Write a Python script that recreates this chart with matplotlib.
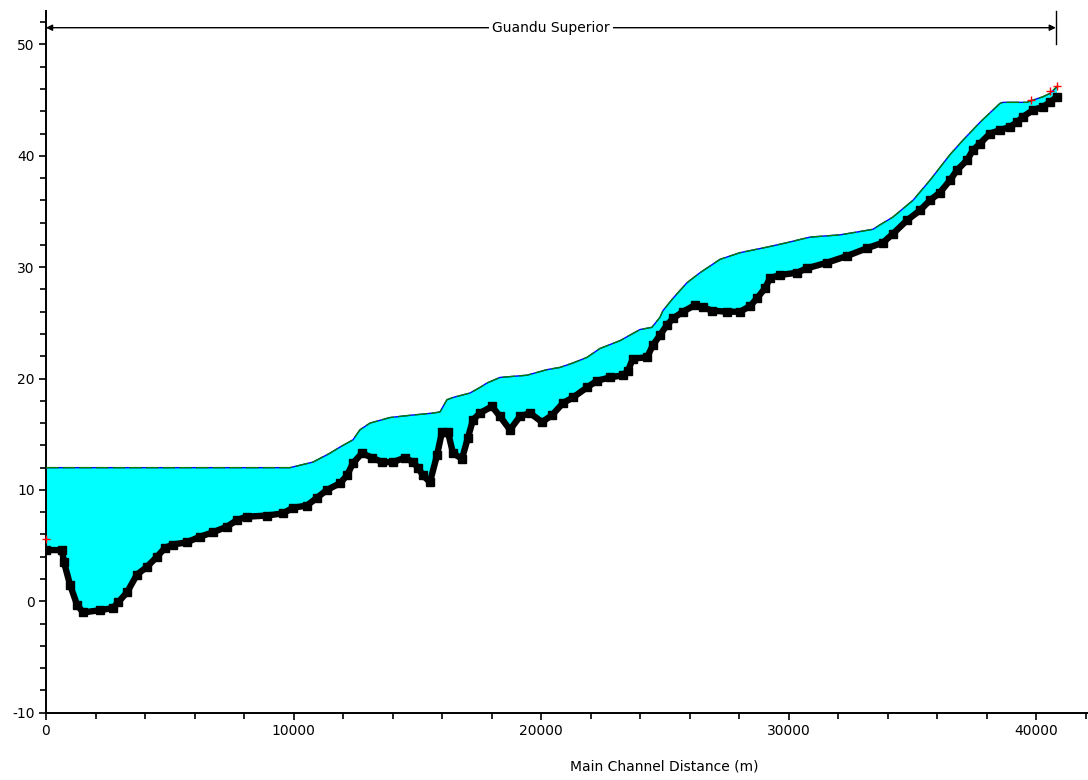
import matplotlib
matplotlib.use("Agg")
import matplotlib.pyplot as plt
import numpy as np

plt.rcParams["axes.unicode_minus"] = False

# lit du fond (Ground) - distance (m), cote (m)
bed_x = [0, 646, 727, 970, 1252, 1495, 2182, 2707, 2909, 3272, 3676, 4080, 4484, 4808,
         5131, 5696, 6222, 6747, 7312, 7716, 8120, 8928, 9575, 9979, 10544, 10948, 11352,
         11878, 12160, 12403, 12766, 13170, 13574, 14019, 14504, 14827, 15029, 15231, 15514,
         15796, 15998, 16241, 16443, 16806, 17049, 17251, 17534, 18018, 18342, 18746, 19150,
         19554, 20038, 20442, 20887, 21291, 21856, 22260, 22786, 23311, 23513, 23715, 24280,
         24523, 24806, 25088, 25331, 25735, 26220, 26543, 26906, 27512, 28038, 28442, 28724,
         29048, 29250, 29654, 30340, 30744, 31552, 32360, 33168, 33815, 34219, 34784, 35310,
         35714, 36118, 36522, 36804, 37208, 37451, 37734, 38138, 38542, 38946, 39228, 39471,
         39875, 40279, 40562, 40844]
bed_y = [4.6, 4.6, 3.5, 1.5, -0.3, -1.0, -0.8, -0.6, -0.1, 0.8, 2.4, 3.1, 4.0, 4.8,
         5.1, 5.3, 5.8, 6.2, 6.7, 7.3, 7.6, 7.7, 7.9, 8.4, 8.6, 9.3, 10.0,
         10.6, 11.3, 12.4, 13.3, 12.9, 12.5, 12.5, 12.9, 12.5, 12.0, 11.3, 10.7,
         13.1, 15.2, 15.2, 13.3, 12.8, 14.7, 16.3, 16.9, 17.5, 16.6, 15.4, 16.6,
         16.9, 16.1, 16.7, 17.8, 18.3, 19.2, 19.8, 20.1, 20.3, 20.7, 21.8, 21.9,
         23.0, 23.9, 24.8, 25.4, 26.0, 26.6, 26.4, 26.1, 26.0, 26.0, 26.5, 27.2,
         28.1, 29.0, 29.3, 29.5, 29.9, 30.4, 31.0, 31.7, 32.2, 33.0, 34.2, 35.1,
         36.0, 36.7, 37.8, 38.7, 39.6, 40.5, 41.1, 42.0, 42.3, 42.6, 43.0, 43.5,
         44.1, 44.4, 44.8, 45.3]

# ligne d'eau (WS)
ws_x = [0, 9858, 10787, 11474, 11878, 12403, 12685, 13089, 13897, 14706, 15635, 15917,
        16200, 16443, 17130, 17534, 17816, 18342, 19432, 20240, 20766, 21291, 21856, 22382,
        23190, 23998, 24482, 24806, 24927, 25331, 25896, 26422, 27230, 28038, 29128, 29936,
        30866, 32078, 32886, 33411, 33694, 34219, 35027, 35714, 36522, 37047, 37734, 38016,
        38542, 38663, 39632, 39875, 40279, 40562, 40844]
ws_y = [12.0, 12.0, 12.5, 13.3, 13.85, 14.5, 15.4, 16.0, 16.5, 16.7, 16.9, 17.0,
        18.1, 18.3, 18.7, 19.2, 19.6, 20.1, 20.3, 20.8, 21.0, 21.4, 21.9, 22.7,
        23.4, 24.4, 24.6, 25.5, 26.1, 27.2, 28.6, 29.5, 30.7, 31.3, 31.8, 32.2,
        32.7, 32.9, 33.2, 33.4, 33.8, 34.5, 36.0, 37.8, 40.1, 41.4, 43.0, 43.6,
        44.7, 44.8, 44.8, 45.0, 45.3, 45.6, 46.2]

# profondeur critique (Crit)
crit_x = [0, 39800, 40560, 40840]
crit_y = [5.6, 45.0, 45.8, 46.3]

titre_bief = "Guandu Superior"
fin_bief = 40800

fig = plt.figure(figsize=(10.88, 7.80), dpi=100)
ax = fig.add_axes([46 / 1088, 1 - 712.7 / 780, 1 - 46 / 1088, (712.7 - 11) / 780])

# remplissage eau
poly_x = np.concatenate([ws_x, bed_x[::-1]])
poly_y = np.concatenate([ws_y, bed_y[::-1]])
ax.fill(poly_x, poly_y, color="#00ffff", lw=0, zorder=1)

# ligne d'eau bleue + ligne d'energie verte
ax.plot(ws_x, ws_y, color="#0000ff", lw=1.0, zorder=3)
ax.plot(ws_x, ws_y, color="#008000", lw=1.0, ls=(0, (9, 3)), zorder=4)

# fond
ax.plot(bed_x, bed_y, color="black", lw=4.6, zorder=5, solid_capstyle="butt")
ax.plot(bed_x, bed_y, color="black", lw=0, marker="s", markersize=5.5, zorder=6)

ax.plot(crit_x, crit_y, color="red", lw=0, marker="+", markersize=6, mew=1.0, zorder=7,
        clip_on=False)

# fleche du bief
ax.annotate("", xy=(0, 51.5), xytext=(fin_bief, 51.5),
            arrowprops=dict(arrowstyle="<|-|>", color="black", lw=1.0,
                            mutation_scale=9, shrinkA=0, shrinkB=0), zorder=8)
ax.plot([fin_bief, fin_bief], [50.0, 53.0], color="black", lw=1.0, clip_on=False)
ax.text(fin_bief / 2, 51.5, titre_bief, ha="center", va="center", fontsize=10,
        bbox=dict(facecolor="white", edgecolor="none", pad=2), zorder=9)

ax.set_xlim(0, 42100)
ax.set_ylim(-10, 53.0)
ax.set_xticks([0, 10000, 20000, 30000, 40000])
ax.set_xticks(np.arange(0, 42001, 2000), minor=True)
ax.set_yticks([-10, 0, 10, 20, 30, 40, 50])
ax.set_yticks(np.arange(-10, 53, 2), minor=True)
ax.tick_params(which="major", length=5, width=1.2, labelsize=10, pad=3)
ax.tick_params(which="minor", length=4, width=1.2)

for s in ["top", "right"]:
    ax.spines[s].set_visible(False)
for s in ["left", "bottom"]:
    ax.spines[s].set_linewidth(1.4)

fig.text(664 / 1088, 1 - 766 / 780, "Main Channel Distance (m)", ha="center", va="center",
         fontsize=10)

fig.savefig("out.png", dpi=100)
